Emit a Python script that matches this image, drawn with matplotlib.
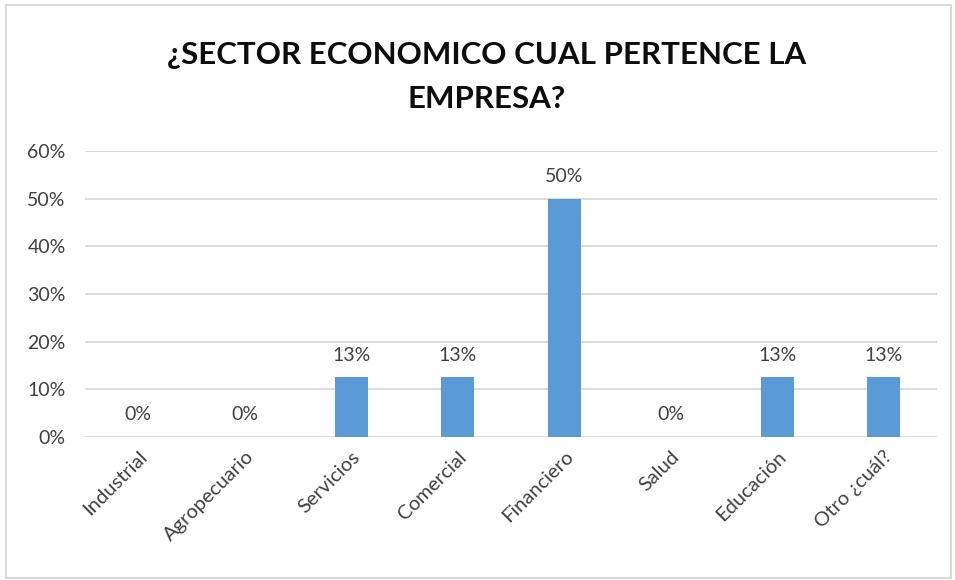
import matplotlib.pyplot as plt
from matplotlib.patches import Rectangle

# datos del gráfico
categorias = ['Industrial', 'Agropecuario', 'Servicios', 'Comercial',
              'Financiero', 'Salud', 'Educación', 'Otro ¿cuál?']
valores = [0, 0, 12.5, 12.5, 50, 0, 12.5, 12.5]
etiquetas = ['0%', '0%', '13%', '13%', '50%', '0%', '13%', '13%']
ticks_y = [0, 10, 20, 30, 40, 50, 60]

plt.rcParams['font.family'] = ['Lato', 'DejaVu Sans']

fig = plt.figure(figsize=(9.55, 5.8), dpi=100)
ax = fig.add_axes([0.089, 0.2466, 0.892, 0.4931])

x = range(len(categorias))
ax.bar(x, valores, width=0.31, color='#5B9BD5', zorder=3)

# etiquetas de datos
for i, (v, t) in enumerate(zip(valores, etiquetas)):
    ax.annotate(t, (i, v), xytext=(0, 10), textcoords='offset points',
                ha='center', va='bottom', fontsize=14, color='#404040')

ax.set_ylim(0, 60)
ax.set_xlim(-0.5, len(categorias) - 0.5)
ax.set_yticks(ticks_y)
ax.set_yticklabels([f'{t}%' for t in ticks_y], fontsize=14, color='#404040')
ax.set_xticks(list(x))
ax.set_xticklabels(categorias, rotation=45, ha='right', rotation_mode='anchor',
                   fontsize=14.5, color='#404040')
ax.tick_params(axis='y', length=0, pad=14)
ax.tick_params(axis='x', length=0, pad=8)
ax.yaxis.grid(True, color='#D9D9D9', linewidth=1.3, zorder=0)
for s in ax.spines.values():
    s.set_visible(False)

fig.text(0.51, 0.905, '¿SECTOR ECONOMICO CUAL PERTENCE LA', ha='center', va='center',
         fontsize=22.5, fontweight='bold', color='#0D0D0D')
fig.text(0.51, 0.83, 'EMPRESA?', ha='center', va='center',
         fontsize=22.5, fontweight='bold', color='#0D0D0D')

# borde del gráfico
fig.patches.append(Rectangle((0.006, 0.004), 0.99, 0.987, transform=fig.transFigure,
                             fill=False, edgecolor='#D9D9D9', linewidth=1.5))

plt.savefig('out.png', dpi=100)
